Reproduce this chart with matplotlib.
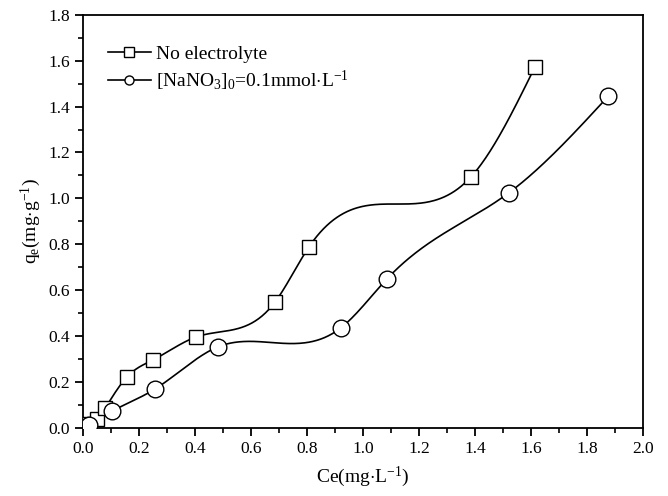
"""Adsorption isotherm: q_e vs Ce with and without NaNO3, spline-connected."""
import matplotlib
matplotlib.use("Agg")
import matplotlib.pyplot as plt
import numpy as np
from matplotlib.ticker import MultipleLocator

plt.rcParams["font.family"] = ["Liberation Serif", "DejaVu Serif"]
plt.rcParams["mathtext.fontset"] = "custom"
plt.rcParams["mathtext.rm"] = "Liberation Serif"
plt.rcParams["mathtext.it"] = "Liberation Serif:italic"

# values
ce_none = [0.02, 0.05, 0.079, 0.157, 0.25, 0.404, 0.686, 0.807, 1.386, 1.614]
qe_none = [0.015, 0.037, 0.085, 0.221, 0.295, 0.395, 0.548, 0.788, 1.094, 1.573]
ce_nano3 = [0.021, 0.104, 0.257, 0.482, 0.921, 1.086, 1.521, 1.875]
qe_nano3 = [0.012, 0.072, 0.168, 0.352, 0.435, 0.649, 1.024, 1.444]
labels = ["No electrolyte", r"[NaNO$_3$]$_0$=0.1mmol$\cdot$L$^{-1}$"]


def natural_spline(x, y, n=400):
    x = np.asarray(x, float)
    y = np.asarray(y, float)
    h = np.diff(x)
    m = len(x)
    A = np.zeros((m, m))
    b = np.zeros(m)
    A[0, 0] = A[-1, -1] = 1.0
    for i in range(1, m - 1):
        A[i, i - 1] = h[i - 1]
        A[i, i] = 2 * (h[i - 1] + h[i])
        A[i, i + 1] = h[i]
        b[i] = 6 * ((y[i + 1] - y[i]) / h[i] - (y[i] - y[i - 1]) / h[i - 1])
    M = np.linalg.solve(A, b)
    xs = np.linspace(x[0], x[-1], n)
    k = np.clip(np.searchsorted(x, xs) - 1, 0, m - 2)
    t0 = x[k + 1] - xs
    t1 = xs - x[k]
    hk = h[k]
    ys = (M[k] * t0**3 + M[k + 1] * t1**3) / (6 * hk) \
        + (y[k] / hk - M[k] * hk / 6) * t0 + (y[k + 1] / hk - M[k + 1] * hk / 6) * t1
    return xs, ys


fig = plt.figure(figsize=(6.68, 4.96), dpi=100)
ax = fig.add_axes([0.1243, 0.138, 0.8383, 0.832])

series = [(ce_none, qe_none, "s", 10.5), (ce_nano3, qe_nano3, "o", 12)]
for (x, y, mk, ms), lab in zip(series, labels):
    xs, ys = natural_spline(x, y)
    ax.plot(xs, ys, color="black", lw=1.2, zorder=2)
    ax.plot(x, y, ls="none", marker=mk, ms=ms, mfc="white", mec="black",
            mew=1.0, zorder=3)
    # legend proxy
    ax.plot([], [], color="black", lw=1.2, marker=mk, ms=6.5, mfc="white",
            mec="black", mew=1.0, label=lab)

ax.set_xlim(0, 2.0)
ax.set_ylim(0, 1.8)
ax.xaxis.set_major_locator(MultipleLocator(0.2))
ax.xaxis.set_minor_locator(MultipleLocator(0.1))
ax.yaxis.set_major_locator(MultipleLocator(0.2))
ax.yaxis.set_minor_locator(MultipleLocator(0.1))
ax.xaxis.set_major_formatter(lambda v, p: f"{v:.1f}")
ax.yaxis.set_major_formatter(lambda v, p: f"{v:.1f}")
ax.tick_params(which="major", direction="out", length=6, width=1.3, labelsize=12.5)
ax.tick_params(which="minor", direction="out", length=3.5, width=1.2)
for s in ax.spines.values():
    s.set_linewidth(1.3)

ax.set_xlabel(r"Ce(mg$\cdot$L$^{-1}$)", fontsize=14, labelpad=6)
ax.set_ylabel(r"q$_\mathrm{e}$(mg$\cdot$g$^{-1}$)", fontsize=14, labelpad=4)

ax.legend(loc="upper left", bbox_to_anchor=(0.02, 0.96), frameon=False,
          fontsize=14, handlelength=2.2, handletextpad=0.3, labelspacing=0.3,
          borderaxespad=0.3)

fig.savefig("out.png", dpi=100)
